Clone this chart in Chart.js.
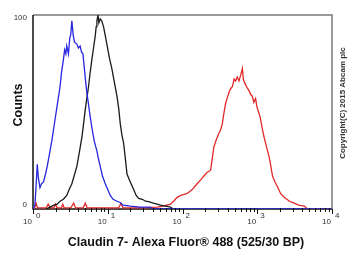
<!DOCTYPE html>
<html>
<head>
<meta charset="utf-8">
<script src="https://cdn.jsdelivr.net/npm/chart.js@4"></script>
<style>
  html, body { margin: 0; padding: 0; background: #fff; }
  #wrap { width: 356px; height: 263px; }
</style>
</head>
<body>
<div id="wrap"><canvas id="histChart" width="356" height="263"></canvas></div>
<script>
// Histogram data (fluorescence intensity, counts)
const blueX = [1.00, 1.06, 1.10, 1.14, 1.18, 1.24, 1.30, 1.38, 1.45, 1.55, 1.69, 1.80, 1.97, 2.10, 2.30, 2.40, 2.55, 2.65, 2.75, 2.83, 2.98, 3.10, 3.20, 3.31, 3.40, 3.47, 3.60, 3.86, 4.05, 4.27, 4.45, 4.65, 4.85, 4.99, 5.25, 5.53, 5.80, 6.13, 6.6, 7.16, 7.5, 7.93, 8.5, 9.25, 10.0, 10.8, 11.8, 13.3, 14.5, 16.1, 20, 27, 37, 40, 10000];
const blueY = [0, 2, 12, 23, 16, 11, 13, 14, 17, 22, 30, 36, 46, 53, 63, 70, 77, 82, 80, 84, 80, 88, 90, 97, 92, 89, 86, 85, 83, 84, 81, 80, 73, 68, 60, 54, 48, 42, 35, 30, 26, 22, 17, 13, 10, 7, 5, 4, 3.5, 2, 1.5, 1, 1, 0, 0];

const blackX = [1.5, 1.69, 1.9, 2.1, 2.3, 2.55, 2.83, 3.05, 3.31, 3.55, 3.86, 4.2, 4.51, 4.75, 4.99, 5.25, 5.53, 5.8, 6.13, 6.45, 6.79, 7.0, 7.16, 7.4, 7.6, 7.93, 8.3, 8.78, 9.2, 9.73, 10.5, 11.4, 12.3, 13.3, 14.0, 14.7, 15.5, 16.3, 17.2, 18.1, 19.5, 22.2, 24, 25.9, 29, 32, 35.2, 40.7, 46, 50.7, 60, 68.9, 75.6];
const blackY = [0, 1, 2, 2.5, 4, 5, 7, 10, 13, 17, 22, 30, 37, 44, 51, 57, 63, 70, 77, 83, 89, 94, 97, 100, 96, 98, 97, 94, 90, 85, 78, 72, 65, 58, 52, 44, 38, 34, 26, 18, 15, 10, 7, 5.5, 5, 4, 3.8, 3, 2.5, 2, 1.5, 1, 0];

const redX = [1.0, 1.05, 1.1, 1.15, 1.5, 1.6, 1.7, 1.9, 2.0, 2.1, 2.4, 2.5, 2.6, 3.2, 3.5, 3.7, 4.7, 5.0, 5.3, 14, 15, 16, 30, 45.8, 55, 68.9, 76, 84.9, 95, 105, 115.6, 135, 157, 175, 193, 215, 238, 250, 263, 285, 307, 325, 341, 360, 378, 395, 418, 440, 464, 490, 514, 540, 570, 600, 633, 650, 679, 720, 776, 820, 863, 900, 950, 985, 1040, 1091, 1160, 1234, 1330, 1439, 1520, 1600, 1720, 1866, 2050, 2290, 2700, 3118, 3600, 4250, 4720, 10000];
const redY = [0.6, 0.6, 3, 0.6, 0.6, 2.5, 0.6, 0.6, 2.5, 0.6, 0.6, 2.5, 0.6, 0.6, 3, 0.6, 0.6, 3, 0.6, 0.6, 3, 0.6, 0.6, 1, 1.5, 2.5, 4, 6, 7, 7.5, 8, 10, 13, 15, 17, 19, 20, 26, 32, 36, 39, 41, 44, 50, 54.5, 57, 60, 62, 63, 67, 66, 68, 66, 69, 72.5, 67, 65, 63, 61, 59, 58, 55, 57, 53, 50, 47.6, 42, 37, 32, 27, 22, 17, 14, 11.5, 8, 6, 4, 3, 2, 1.5, 0, 0];

const yTickValues = [0, 100];
const xDecades = [1, 10, 100, 1000, 10000];

function toPoints(xs, ys) {
    return xs.map((x, i) => ({ x: x, y: ys[i] }));
}

// Axis decorations, frame and texts drawn around the chart area
const decorPlugin = {
    id: 'decor',
    beforeDatasetsDraw(chart) {
        const ctx = chart.ctx;
        const a = chart.chartArea;
        ctx.save();
        // grey frame top and right
        ctx.strokeStyle = '#7a7a7a';
        ctx.lineWidth = 1.5;
        ctx.beginPath();
        ctx.moveTo(a.left, a.top);
        ctx.lineTo(a.right, a.top);
        ctx.lineTo(a.right, a.bottom);
        ctx.stroke();
        // left and bottom axis lines
        ctx.strokeStyle = '#111';
        ctx.lineWidth = 1.5;
        ctx.beginPath();
        ctx.moveTo(a.left, a.top);
        ctx.lineTo(a.left, a.bottom);
        ctx.lineTo(a.right, a.bottom);
        ctx.stroke();
        ctx.restore();
    },
    afterDraw(chart) {
        const ctx = chart.ctx;
        const a = chart.chartArea;
        const xs = chart.scales.x;
        const ys = chart.scales.y;
        ctx.save();

        // x ticks, major and minor
        ctx.strokeStyle = '#111';
        ctx.lineWidth = 1;
        for (let d = 0; d < xDecades.length; d++) {
            const base = xDecades[d];
            for (let m = 1; m <= 9; m++) {
                if (d === xDecades.length - 1 && m > 1) break;
                const px = Math.round(xs.getPixelForValue(base * m)) + 0.5;
                const len = m === 1 ? 5 : 3;
                ctx.beginPath();
                ctx.moveTo(px, a.bottom - (m === 1 ? 0 : 1));
                ctx.lineTo(px, a.bottom + len);
                ctx.stroke();
            }
        }

        // x tick labels "10" with superscript exponent
        ctx.fillStyle = '#333';
        ctx.textBaseline = 'middle';
        ctx.font = '8px "Liberation Sans", Arial, sans-serif';
        xDecades.forEach((v, i) => {
            const px = xs.getPixelForValue(v);
            ctx.textAlign = 'right';
            ctx.fillText('10', px - 1, a.bottom + 13);
            ctx.textAlign = 'left';
            ctx.fillText(String(i), px + 3, a.bottom + 7);
        });

        // y tick labels
        ctx.textAlign = 'right';
        yTickValues.forEach(v => {
            const py = ys.getPixelForValue(v);
            ctx.fillText(String(v), a.left - 6, v === 0 ? py - 4 : py + 3);
        });

        // axis titles
        ctx.fillStyle = '#111';
        ctx.font = 'bold 12.5px "Liberation Sans", Arial, sans-serif';
        ctx.textAlign = 'center';
        ctx.fillText('Claudin 7- Alexa Fluor\u00ae 488 (525/30 BP)', 186, 243);

        ctx.save();
        ctx.translate(19, 105);
        ctx.rotate(-Math.PI / 2);
        ctx.font = 'bold 12.5px "Liberation Sans", Arial, sans-serif';
        ctx.fillText('Counts', 0, 0);
        ctx.restore();

        // copyright note on the right
        ctx.save();
        ctx.translate(343, 103);
        ctx.rotate(-Math.PI / 2);
        ctx.font = 'bold 8px "Liberation Sans", Arial, sans-serif';
        ctx.fillStyle = '#333';
        ctx.fillText('Copyright(C) 2015 Abcam plc', 0, 0);
        ctx.restore();

        ctx.restore();
    }
};

document.addEventListener('DOMContentLoaded', function() {
    const ctx = document.getElementById('histChart').getContext('2d');

    new Chart(ctx, {
        type: 'scatter',
        data: {
            datasets: [
                {
                    label: 'Isotype',
                    data: toPoints(blueX, blueY),
                    borderColor: '#2626e0',
                    showLine: true,
                    borderWidth: 1.3,
                    pointRadius: 0,
                    tension: 0
                },
                {
                    label: 'Unlabelled',
                    data: toPoints(blackX, blackY),
                    borderColor: '#1a1a1a',
                    showLine: true,
                    borderWidth: 1.3,
                    pointRadius: 0,
                    tension: 0
                },
                {
                    label: 'Claudin 7',
                    data: toPoints(redX, redY),
                    borderColor: '#e02828',
                    showLine: true,
                    borderWidth: 1.3,
                    pointRadius: 0,
                    tension: 0
                }
            ]
        },
        options: {
            responsive: false,
            animation: false,
            layout: {
                padding: { left: 33, top: 15, right: 24, bottom: 54 }
            },
            plugins: {
                legend: { display: false },
                tooltip: { enabled: false }
            },
            scales: {
                x: {
                    type: 'logarithmic',
                    min: 1,
                    max: 10000,
                    display: false
                },
                y: {
                    min: 0,
                    max: 100,
                    display: false
                }
            }
        },
        plugins: [decorPlugin]
    });
});
</script>
</body>
</html>
